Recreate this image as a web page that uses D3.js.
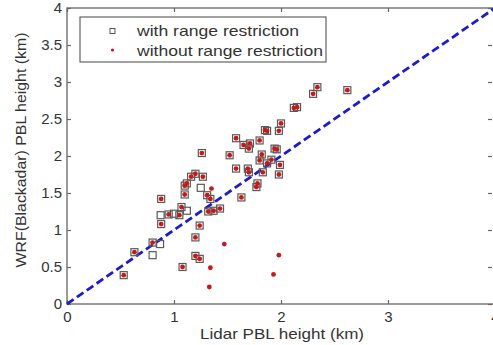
<!DOCTYPE html>
<html>
<head>
<meta charset="utf-8">
<script src="https://cdn.jsdelivr.net/npm/d3@7"></script>
<style>
  body { margin: 0; background: #fff; }
  text { font-family: "Liberation Sans", Arial, sans-serif; fill: #333; }
</style>
</head>
<body>
<div id="viz-container"></div>
<script>
// with range restriction (open squares)
let withX = [0.53,0.63,0.80,0.88,0.88,0.95,1.05,1.07,1.08,1.10,1.10,1.12,1.16,1.20,1.27,1.24,1.20,1.20,1.24,1.31,1.34,1.32,1.37,1.43,1.63,1.77,1.78,1.83,1.98,1.26,1.52,1.58,1.65,1.71,1.70,1.80,1.85,1.87,1.98,2.00,1.82,1.80,1.58,1.69,1.70,1.94,1.96,1.91,1.87,1.99,2.12,2.15,2.30,2.34,2.62,
             0.875,0.87,0.80,1.00,1.12,1.25];
let withY = [0.39,0.70,0.83,1.08,1.42,1.21,1.20,1.31,0.50,1.48,1.60,1.63,1.72,1.76,1.72,1.06,0.90,0.65,0.61,1.47,1.42,1.25,1.26,1.29,1.44,1.58,1.63,1.78,1.75,2.04,2.01,2.24,2.15,2.17,2.10,2.21,2.35,2.34,2.34,2.44,2.02,1.94,1.83,1.83,1.78,2.10,2.09,1.95,1.90,1.88,2.65,2.66,2.84,2.93,2.89,
             1.20,0.81,0.66,1.22,1.26,1.57];
// without range restriction (red dots)
let withoutX = [0.53,0.63,0.80,0.88,0.88,0.95,1.05,1.07,1.08,1.10,1.10,1.12,1.16,1.20,1.27,1.24,1.20,1.20,1.24,1.31,1.34,1.32,1.37,1.43,1.63,1.77,1.78,1.83,1.98,1.26,1.52,1.58,1.65,1.71,1.70,1.80,1.85,1.87,1.98,2.00,1.82,1.80,1.58,1.69,1.70,1.94,1.96,1.91,1.87,1.99,2.12,2.15,2.30,2.34,2.62,
                1.35,1.47,1.34,1.33,1.93,1.98];
let withoutY = [0.39,0.70,0.83,1.08,1.42,1.21,1.20,1.31,0.50,1.48,1.60,1.63,1.72,1.76,1.72,1.06,0.90,0.65,0.61,1.47,1.42,1.25,1.26,1.29,1.44,1.58,1.63,1.78,1.75,2.04,2.01,2.24,2.15,2.17,2.10,2.21,2.35,2.34,2.34,2.44,2.02,1.94,1.83,1.83,1.78,2.10,2.09,1.95,1.90,1.88,2.65,2.66,2.84,2.93,2.89,
                1.56,0.81,0.49,0.23,0.40,0.66];

let xTicks = [0,1,2,3,4];
let yTicks = [0,0.5,1,1.5,2,2.5,3,3.5,4];
let legendLabels = ["with range restriction", "without range restriction"];

let viz = d3.select("#viz-container")
              .append("svg")
                .attr("width", 493)
                .attr("height", 345)
;

let x = d3.scaleLinear().domain([0,4]).range([67,495]);
let y = d3.scaleLinear().domain([0,4]).range([304,8]);

// frame
viz.append("rect")
    .attr("x", x(0)).attr("y", y(4))
    .attr("width", x(4)-x(0)).attr("height", y(0)-y(4))
    .attr("fill", "none").attr("stroke", "#666").attr("stroke-width", 1.3);

function styleAxis(g){
  g.select(".domain").remove();
  g.selectAll(".tick line").attr("stroke", "#666").attr("stroke-width", 1.2);
  g.selectAll(".tick text").attr("font-size", 15).attr("fill", "#333")
    .attr("font-family", "Liberation Sans, Arial, sans-serif");
}

viz.append("g").attr("transform", "translate(0," + y(0) + ")")
  .call(d3.axisBottom(x).tickValues(xTicks).tickFormat(d3.format("d")).tickSizeInner(-4).tickSizeOuter(0).tickPadding(7))
  .call(styleAxis);
viz.append("g").attr("transform", "translate(0," + y(4) + ")")
  .call(d3.axisTop(x).tickValues(xTicks).tickFormat("").tickSizeInner(-4).tickSizeOuter(0))
  .call(styleAxis);
viz.append("g").attr("transform", "translate(" + x(0) + ",0)")
  .call(d3.axisLeft(y).tickValues(yTicks).tickFormat(d => d).tickSizeInner(-4).tickSizeOuter(0).tickPadding(5))
  .call(styleAxis);
viz.append("g").attr("transform", "translate(" + (x(4)-3) + ",0)")
  .call(d3.axisRight(y).tickValues(yTicks).tickFormat("").tickSizeInner(-4).tickSizeOuter(0))
  .call(styleAxis);

// 1:1 line
viz.append("line")
  .attr("x1", x(0)).attr("y1", y(0))
  .attr("x2", x(4)).attr("y2", y(4))
  .attr("stroke", "#1c1ccc").attr("stroke-width", 2.8)
  .attr("stroke-dasharray", "8,4");

let withData = withX.map((d,i) => [d, withY[i]]);
let withoutData = withoutX.map((d,i) => [d, withoutY[i]]);

viz.selectAll(".sq").data(withData).enter().append("rect")
  .attr("class", "sq")
  .attr("x", d => x(d[0]) - 3.5)
  .attr("y", d => y(d[1]) - 3.5)
  .attr("width", 7).attr("height", 7)
  .attr("fill", "none").attr("stroke", "#5a5a5a").attr("stroke-width", 1.2);

viz.selectAll(".dot").data(withoutData).enter().append("circle")
  .attr("class", "dot")
  .attr("cx", d => x(d[0]))
  .attr("cy", d => y(d[1]))
  .attr("r", 2.4)
  .attr("fill", "#c41a1a");

// legend
let lg = viz.append("g");
lg.append("rect").attr("x", 80).attr("y", 17).attr("width", 246).attr("height", 45)
  .attr("fill", "#fff").attr("stroke", "#555").attr("stroke-width", 1.1);
lg.append("rect").attr("x", 110).attr("y", 28.5).attr("width", 5).attr("height", 5)
  .attr("fill", "none").attr("stroke", "#555");
lg.append("circle").attr("cx", 112.5).attr("cy", 50).attr("r", 1.6).attr("fill", "#d41010");
lg.selectAll(".lt").data(legendLabels).enter().append("text")
  .attr("class", "lt")
  .attr("x", 137)
  .attr("y", (d,i) => 31 + i*19.5)
  .attr("dy", "0.35em")
  .attr("font-size", 15)
  .attr("textLength", (d,i) => i == 0 ? 162 : 186)
  .attr("lengthAdjust", "spacingAndGlyphs")
  .text(d => d);

// axis titles
viz.append("text")
  .attr("x", 282).attr("y", 334)
  .attr("dy", "0.35em")
  .attr("text-anchor", "middle")
  .attr("font-size", 15)
  .attr("textLength", 164)
  .attr("lengthAdjust", "spacingAndGlyphs")
  .text("Lidar PBL height (km)");

viz.append("text")
  .attr("transform", "translate(21,150) rotate(-90)")
  .attr("dy", "0.35em")
  .attr("text-anchor", "middle")
  .attr("font-size", 15)
  .attr("textLength", 235)
  .attr("lengthAdjust", "spacingAndGlyphs")
  .text("WRF(Blackadar) PBL height (km)");
</script>
</body>
</html>
